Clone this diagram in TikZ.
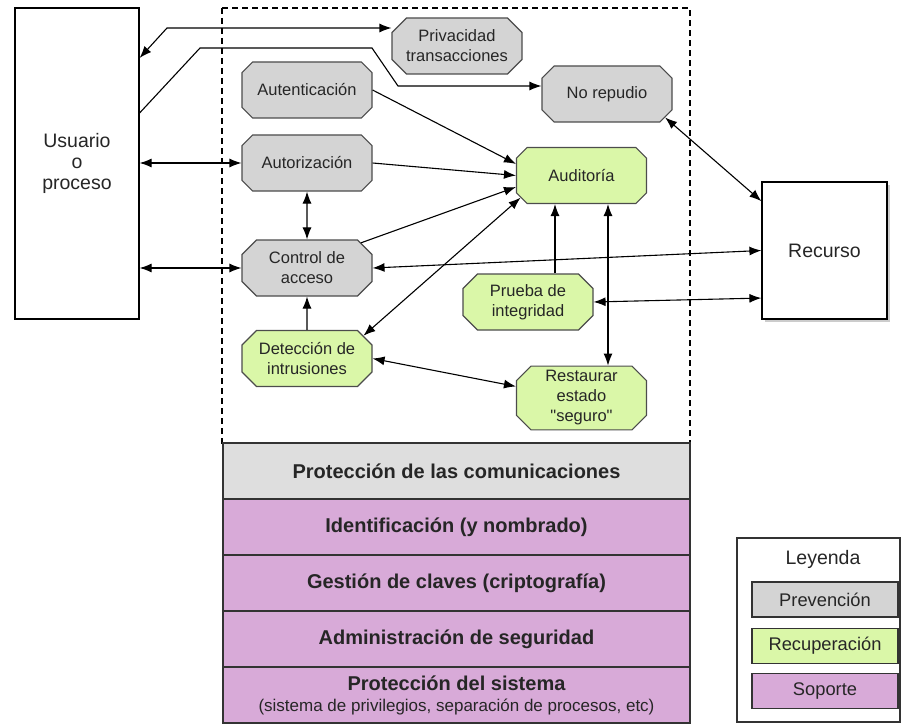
\documentclass[tikz,border=0pt]{standalone}
\usepackage{fontspec}
\setmainfont{Liberation Sans}
\usetikzlibrary{arrows.meta, positioning, shapes.misc, shadows}

\definecolor{prevgray}{RGB}{212,212,212}
\definecolor{recgreen}{RGB}{218,247,168}
\definecolor{soppink}{RGB}{216,170,216}
\definecolor{topgray}{RGB}{222,222,222}

\tikzset{
  caja/.style={chamfered rectangle, chamfered rectangle xsep=11bp, draw=black!70, line width=1.1bp,
    minimum width=130bp, minimum height=56bp, inner sep=1bp, align=center, text=black!85,
    font=\fontsize{16.5bp}{20bp}\selectfont},
  prev/.style={caja, fill=prevgray},
  recu/.style={caja, fill=recgreen},
  capa/.style={rectangle, draw=black!80, line width=1.2bp, outer sep=0pt, minimum width=467bp,
    minimum height=56bp, fill=soppink, align=center, text=black!85,
    font=\fontsize{20bp}{22bp}\selectfont\bfseries},
  ley/.style={rectangle, draw=black!80, line width=1.2bp, minimum width=146bp, minimum height=35bp,
    text=black!85, font=\fontsize{18.3bp}{20bp}\selectfont},
  extremo/.style={draw=black, line width=1.2bp, align=center, text=black!85,
    font=\fontsize{19.5bp}{21bp}\selectfont}
}

\begin{document}
\begin{tikzpicture}[x=1bp, y=-1bp, >={Latex[length=12bp,width=9bp]}, line width=1.1bp]
  \useasboundingbox (0,0) rectangle (901,724);
  \draw[dash pattern=on 6bp off 4bp, line width=1.2bp] (222,8) rectangle (690,443);

  \node[extremo, minimum width=124bp, minimum height=311bp] (usr) at (77,163.5) {Usuario\\o\\proceso};
  \node[extremo, fill=white, drop shadow={shadow xshift=3bp, shadow yshift=-3bp, opacity=.4},
    minimum width=125bp, minimum height=137bp] (rec) at (824.5,250.5) {Recurso};

  \node[prev] (priv) at (457,46) {Privacidad\\transacciones};
  \node[prev] (aut) at (307,90) {Autenticación};
  \node[prev] (autz) at (307,163) {Autorización};
  \node[prev] (nrep) at (607,94) {No repudio};
  \node[prev] (ctrl) at (307,268) {Control de\\acceso};
  \node[recu] (audi) at (581.5,175.5) {Auditoría};
  \node[recu] (det) at (307,358.5) {Detección de\\intrusiones};
  \node[recu] (prue) at (528,302) {Prueba de\\integridad};
  \node[recu] (rest) at (581.5,398) {Restaurar\\estado\\\textquotedbl seguro\textquotedbl};

  \node[capa, fill=topgray] (pcom) at (456.5,471) {Protección de las comunicaciones};
  \node[capa, below=0pt of pcom] (ident) {Identificación (y nombrado)};
  \node[capa, below=0pt of ident] (gest) {Gestión de claves (criptografía)};
  \node[capa, below=0pt of gest] (admin) {Administración de seguridad};
  \node[capa, below=0pt of admin] (psis) {Protección del sistema\\[-1bp]
    {\fontsize{17bp}{20bp}\selectfont\mdseries (sistema de privilegios, separación de procesos, etc)}};

  \node[draw=black!80, line width=1.2bp, minimum width=163bp, minimum height=184bp] (leybox) at (818.5,630) {};
  \node[text=black!85, font=\fontsize{19.5bp}{20bp}\selectfont] (leytit) at (823,559) {Leyenda};
  \node[ley, fill=prevgray] (leyprev) at (825,599.5) {Prevención};
  \node[ley, fill=recgreen, below=10bp of leyprev] (leyrec) {Recuperación};
  \node[ley, fill=soppink, below=9bp of leyrec] (leysop) {Soporte};

  \coordinate (k1) at (167,28);
  \coordinate (k2) at (0,58);
  \coordinate (k3) at (0,113);
  \coordinate (b1) at (200,48);
  \coordinate (b2) at (372,48);
  \coordinate (b3) at (398,86);
  \coordinate (k6) at (555,0);
  \coordinate (k7) at (608,0);

  \draw[<->] (usr.east |- k2) -- (k1) -- (k1 -| priv.west);
  \draw[->] (usr.east |- k3) -- (b1) -- (b2) -- (b3) -- (b3 -| nrep.west);

  \path[->]
    (aut.east) edge (audi.170)
    (autz.east) edge (audi.west)
    (ctrl.25) edge (audi.190)
    (det) edge (ctrl)
    (prue.north -| k6) edge (audi.south -| k6);
  \path[<->]
    (usr.east |- autz) edge (autz.west)
    (usr.east |- ctrl) edge (ctrl.west)
    (autz) edge (ctrl)
    (det.22) edge (audi.200)
    (nrep.-22) edge (rec.142)
    (ctrl.east) edge (rec.west)
    (prue.east) edge (rec.217)
    (audi.south -| k7) edge (rest.north -| k7)
    (det.east) edge (rest.170);
\end{tikzpicture}
\end{document}
